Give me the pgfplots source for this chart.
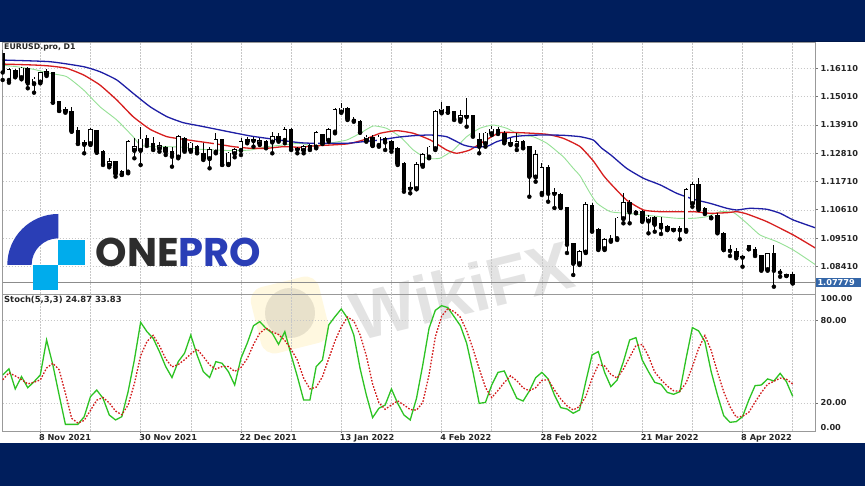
\documentclass[border=0pt]{standalone}
\usepackage{fontspec}
\setmainfont{DejaVu Sans}
\newfontfamily\poppins{Poppins}
\newfontfamily\wikifont{Liberation Sans}
\usepackage{pgfplots}
\usepackage{pgfplotstable}
\pgfplotsset{compat=1.18}
\definecolor{navy}{RGB}{0,30,92}
\definecolor{maBlue}{RGB}{30,30,165}
\definecolor{maRed}{RGB}{215,30,30}
\definecolor{maGreen}{RGB}{150,225,150}
\definecolor{stK}{RGB}{45,195,35}
\definecolor{stD}{RGB}{210,25,25}
\definecolor{pricebox}{RGB}{52,102,168}
\definecolor{logoBlue}{RGB}{42,62,182}
\definecolor{logoCyan}{RGB}{0,172,236}
\definecolor{logoGray}{RGB}{45,45,45}

\pgfplotstableread{
i o h l c
-6 1.16693 1.16821 1.15655 1.15978
-5 1.15655 1.16110 1.15550 1.16044
-4 1.16017 1.16071 1.15760 1.15811
-3 1.15760 1.16172 1.15682 1.16110
-2 1.16110 1.16149 1.15333 1.15550
-1 1.15527 1.15760 1.15162 1.15682
0 1.15589 1.15978 1.15527 1.15916
1 1.15888 1.16071 1.15811 1.15978
2 1.15916 1.15978 1.14773 1.14812
3 1.14812 1.14851 1.14450 1.14489
4 1.14516 1.14617 1.14384 1.14450
5 1.14423 1.14617 1.13646 1.13685
6 1.13685 1.13840 1.13168 1.13218
7 1.13218 1.13323 1.12806 1.13168
8 1.13195 1.13778 1.13129 1.13712
9 1.13685 1.13712 1.12829 1.12868
10 1.12868 1.12934 1.12351 1.12417
11 1.12351 1.12612 1.12262 1.12480
12 1.12480 1.12518 1.11897 1.12029
13 1.12001 1.12157 1.11963 1.12091
14 1.12091 1.13323 1.12029 1.13257
15 1.12934 1.13389 1.12612 1.13063
16 1.12934 1.13840 1.12351 1.13350
17 1.13362 1.13517 1.13090 1.13195
18 1.13195 1.13451 1.12934 1.13000
19 1.13000 1.13257 1.12868 1.13090
20 1.13039 1.13090 1.12740 1.12868
21 1.12868 1.13063 1.12285 1.12701
22 1.12674 1.13517 1.12612 1.13451
23 1.13389 1.13451 1.12868 1.12934
24 1.12934 1.13257 1.12868 1.13195
25 1.13063 1.13129 1.12806 1.12868
26 1.12806 1.13195 1.12546 1.12612
27 1.12612 1.13063 1.12223 1.12934
28 1.12868 1.13583 1.12806 1.13323
29 1.13323 1.13350 1.12351 1.12390
30 1.12390 1.12868 1.12351 1.12806
31 1.12806 1.13000 1.12651 1.12934
32 1.12934 1.13389 1.12740 1.13257
33 1.13257 1.13451 1.13195 1.13323
34 1.13323 1.13428 1.13063 1.13310
35 1.13195 1.13389 1.13129 1.13284
36 1.13257 1.13323 1.13000 1.13090
37 1.13257 1.13646 1.12806 1.13451
38 1.13451 1.13607 1.13257 1.13323
39 1.13323 1.13840 1.13195 1.13712
40 1.13739 1.13778 1.12934 1.13000
41 1.12985 1.13063 1.12806 1.12973
42 1.12934 1.13129 1.12806 1.13063
43 1.13090 1.13168 1.12934 1.13000
44 1.13063 1.13685 1.13000 1.13607
45 1.13517 1.13556 1.13168 1.13218
46 1.13323 1.13778 1.13257 1.13712
47 1.13646 1.14555 1.13583 1.14489
48 1.14423 1.14773 1.14384 1.14555
49 1.14555 1.14617 1.14100 1.14167
50 1.14113 1.14205 1.14034 1.14100
51 1.14034 1.14100 1.13607 1.13646
52 1.13323 1.13517 1.13257 1.13428
53 1.13428 1.13517 1.13090 1.13129
54 1.13129 1.13517 1.13063 1.13428
55 1.13389 1.13451 1.12934 1.13257
56 1.13257 1.13323 1.12868 1.13000
57 1.13000 1.13063 1.12351 1.12417
58 1.12417 1.12468 1.11313 1.11446
59 1.11470 1.11702 1.11251 1.11457
60 1.11446 1.12480 1.11407 1.12351
61 1.12351 1.12806 1.12285 1.12740
62 1.12674 1.13090 1.12612 1.13039
63 1.13000 1.14489 1.12934 1.14423
64 1.14423 1.14812 1.14361 1.14516
65 1.14617 1.14645 1.14384 1.14423
66 1.14423 1.14462 1.14100 1.14167
67 1.14128 1.14489 1.14034 1.14256
68 1.14256 1.14944 1.13840 1.14243
69 1.14256 1.14295 1.13451 1.13517
70 1.13350 1.13583 1.12806 1.13090
71 1.13195 1.13646 1.13063 1.13583
72 1.13583 1.13867 1.13517 1.13739
73 1.13739 1.13817 1.13556 1.13607
74 1.13583 1.13685 1.13195 1.13257
75 1.13200 1.13389 1.13129 1.13190
76 1.13129 1.13583 1.12934 1.13257
77 1.13257 1.13323 1.13000 1.13063
78 1.13063 1.13090 1.11119 1.11924
79 1.11897 1.12934 1.11702 1.12740
80 1.11263 1.12429 1.11185 1.12235
81 1.12235 1.12351 1.10925 1.11263
82 1.11270 1.11457 1.10680 1.11257
83 1.11185 1.11263 1.10680 1.10719
84 1.10680 1.10730 1.08931 1.09281
85 1.09281 1.09319 1.08076 1.08542
86 1.08530 1.09047 1.08464 1.08981
87 1.08981 1.10925 1.08931 1.10796
88 1.10758 1.10863 1.09759 1.09825
89 1.09825 1.09891 1.09047 1.09113
90 1.09113 1.09502 1.09047 1.09436
91 1.09436 1.09630 1.09370 1.09502
92 1.09502 1.10342 1.09436 1.10280
93 1.10280 1.11251 1.10085 1.10886
94 1.10886 1.10991 1.10085 1.10536
95 1.10542 1.10602 1.10474 1.10530
96 1.10536 1.10602 1.10147 1.10186
97 1.10186 1.10408 1.09696 1.10318
98 1.10318 1.10369 1.09759 1.10058
99 1.10058 1.10342 1.09669 1.09953
100 1.09953 1.10019 1.09825 1.09852
101 1.09858 1.09875 1.09825 1.09846
102 1.09858 1.09980 1.09463 1.09846
103 1.09825 1.11446 1.09759 1.11380
104 1.10863 1.11702 1.10730 1.11574
105 1.11574 1.11834 1.10602 1.10668
106 1.10668 1.10730 1.10447 1.10497
107 1.10348 1.10408 1.10280 1.10336
108 1.10369 1.10474 1.09696 1.09759
109 1.09696 1.09759 1.09047 1.09075
110 1.09053 1.09242 1.08814 1.09041
111 1.08981 1.09113 1.08725 1.08814
112 1.08793 1.08853 1.08398 1.08781
113 1.09203 1.09242 1.09075 1.09113
114 1.09075 1.09152 1.08814 1.08892
115 1.08814 1.08853 1.08243 1.08297
116 1.08297 1.08919 1.08243 1.08892
117 1.08892 1.09242 1.07621 1.08270
118 1.08210 1.08297 1.08010 1.08198
119 1.08082 1.08114 1.08037 1.08070
120 1.08076 1.08204 1.07753 1.07779
}\candles

\pgfplotstableread{
i k d
-6 40.4 36.9
-5 44.8 42.0
-4 30.2 39.7
-3 39.2 37.1
-2 31.1 33.9
-1 35.5 35.1
0 40.4 36.8
1 65.9 45.5
2 47.7 48.9
3 25.8 44.2
4 4.4 27.1
5 4.4 8.8
6 4.4 5.3
7 10.0 7.3
8 24.6 14.6
9 29.4 22.0
10 23.4 24.0
11 11.2 20.0
12 7.6 14.1
13 10.0 11.4
14 28.2 18.5
15 51.3 34.0
16 78.8 54.4
17 72.0 64.7
18 67.1 69.3
19 57.4 61.8
20 46.5 52.1
21 38.5 46.3
22 50.1 48.0
23 56.2 51.5
24 69.5 55.7
25 55.0 59.3
26 42.8 53.8
27 38.5 47.7
28 50.1 44.7
29 48.9 46.5
30 42.8 46.5
31 33.1 43.0
32 52.5 45.8
33 63.5 52.3
34 76.3 62.6
35 79.3 70.9
36 74.4 74.5
37 70.8 71.8
38 62.7 69.9
39 72.0 65.5
40 55.0 59.1
41 39.2 51.2
42 22.1 38.1
43 22.1 30.2
44 46.5 31.5
45 51.3 39.1
46 76.8 52.3
47 82.9 65.2
48 88.5 75.4
49 81.7 82.6
50 69.5 79.8
51 45.2 69.7
52 25.8 54.4
53 9.3 33.8
54 16.1 20.2
55 18.5 15.4
56 30.2 18.5
57 19.7 21.5
58 11.2 18.5
59 7.6 15.2
60 23.4 14.8
61 47.7 20.3
62 74.4 40.5
63 87.5 68.0
64 90.9 83.2
65 89.5 88.8
66 82.9 86.6
67 76.3 82.5
68 63.5 72.7
69 42.8 59.6
70 19.7 45.0
71 20.4 31.2
72 33.1 23.9
73 42.3 29.1
74 43.3 34.9
75 33.1 39.8
76 23.4 36.2
77 21.4 31.0
78 28.7 28.9
79 38.4 31.1
80 42.3 36.5
81 37.5 36.9
82 25.8 29.5
83 16.6 22.9
84 15.6 17.9
85 12.5 14.9
86 14.9 17.4
87 35.5 24.7
88 55.0 37.8
89 57.4 47.8
90 42.3 47.0
91 31.9 40.8
92 36.7 38.1
93 50.1 44.7
94 65.9 53.3
95 67.6 61.8
96 51.3 62.6
97 42.8 54.0
98 35.0 42.5
99 33.6 37.0
100 27.7 32.3
101 26.3 28.9
102 28.2 28.6
103 52.5 34.6
104 74.9 46.4
105 72.5 59.8
106 64.7 69.1
107 42.8 58.3
108 25.8 42.5
109 10.7 28.2
110 5.9 17.3
111 6.4 9.6
112 10.0 10.3
113 22.1 13.2
114 32.6 20.6
115 33.1 27.6
116 37.5 33.6
117 36.0 35.8
118 41.6 38.1
119 35.5 37.3
120 24.87 33.83
}\stoch

\begin{document}
\begin{tikzpicture}
\begin{scope}[x=1pt,y=1pt]
\path[use as bounding box] (0,0) rectangle (865,486);
\fill[white] (0,0) rectangle (865,486);
% watermark
\node[rotate=14, fill=orange!40!yellow, fill opacity=0.12, rounded corners=14pt, minimum width=70pt, minimum height=68pt] at (290,171) {};
\fill[black, opacity=0.09] (290,173) circle (25);
\node[rotate=14, text=black, text opacity=0.11, font=\wikifont\bfseries\fontsize{68}{68}\selectfont] at (462,196) {WikiFX};
\end{scope}

% main price panel
\begin{axis}[
  at={(2.7pt,192pt)}, anchor=south west,
  width=812.3pt, height=252pt, scale only axis,
  xmin=-6, xmax=123.56, ymin=1.07337, ymax=1.17132,
  axis line style={draw=black!40, line width=0.7pt},
  xtick={0,8,...,120}, xticklabels={}, major x tick style={draw=none},
  ytick={1.08410,1.09510,1.10610,1.11710,1.12810,1.13910,1.15010,1.16110},
  yticklabels={1.08410,1.09510,1.10610,1.11710,1.12810,1.13910,1.15010,1.16110},
  ytick pos=right, yticklabel pos=right,
  tick align=outside, major tick length=2.5pt,
  major y tick style={draw=black!55, line width=0.6pt},
  tick label style={font=\bfseries\fontsize{8.2}{9}\selectfont, text=black!85},
  yticklabel style={anchor=west, inner sep=0pt, xshift=3pt},
  grid=major, major grid style={draw=black!22, dash pattern=on 1.5pt off 1.5pt, line width=0.5pt},
]
% bid line
\addplot[black!45, line width=0.6pt] coordinates {(-6,1.07779) (123.56,1.07779)};
% moving averages
\addplot[maGreen, line width=0.9pt, smooth, tension=0.3] coordinates {(-6.4,1.16238) (-3.8,1.16172) (-1.1,1.16071) (1.5,1.15916) (4.2,1.15784) (6.9,1.15267) (9.5,1.14617) (12.2,1.14100) (14.8,1.13451) (15.9,1.13129) (17.5,1.13063) (20.2,1.13063) (22.8,1.13039) (25.5,1.12962) (28.1,1.12934) (30.8,1.12907) (33.5,1.12934) (36.1,1.13063) (38.8,1.13129) (41.4,1.13195) (43.5,1.13090) (46,1.13195) (48.9,1.13323) (51,1.13583) (53.1,1.13867) (55.2,1.13778) (57.4,1.13451) (59.5,1.12934) (61.6,1.12612) (63.7,1.12612) (65.9,1.12934) (68,1.13451) (70.1,1.13778) (72.2,1.13906) (74.4,1.13778) (76.5,1.13517) (78.6,1.13451) (80.8,1.13195) (83.4,1.12674) (85,1.12223) (86.1,1.11924) (87.7,1.11251) (88.8,1.10863) (90.9,1.10536) (93.5,1.10474) (96.2,1.10408) (98.9,1.10342) (101.5,1.10280) (104.2,1.10280) (106.3,1.10342) (108.4,1.10536) (110.6,1.10497) (112.7,1.10085) (114.8,1.09630) (117.5,1.09370) (120.1,1.09047) (123.6,1.08480)};
\addplot[maRed, line width=1.3pt, smooth, tension=0.3] coordinates {(-6.4,1.16277) (-1.1,1.16238) (1.5,1.16199) (4.2,1.16110) (6.9,1.15850) (9.5,1.15461) (12.2,1.14878) (14.8,1.14229) (17.5,1.13739) (20.2,1.13451) (22.8,1.13350) (25.5,1.13257) (28.1,1.13168) (30.8,1.13063) (33.5,1.13000) (36.1,1.13000) (38.8,1.13063) (41.4,1.13039) (43.5,1.13090) (48.9,1.13168) (51.5,1.13323) (54.2,1.13583) (56.9,1.13685) (59.5,1.13583) (62.2,1.13323) (64.8,1.12934) (66.4,1.12806) (68.5,1.12934) (71.1,1.13323) (73.3,1.13607) (76.5,1.13607) (80.8,1.13545) (83.4,1.13389) (86.1,1.13063) (88.2,1.12507) (89.8,1.11950) (90.9,1.11640) (93.5,1.10991) (96.2,1.10602) (98.9,1.10536) (104.2,1.10536) (106.8,1.10474) (109.5,1.10497) (111.1,1.10536) (112.7,1.10447) (115.9,1.10147) (120.1,1.09630) (123.6,1.09125)};
\addplot[maBlue, line width=1.3pt, smooth, tension=0.3] coordinates {(-6.4,1.16433) (1.5,1.16367) (6.9,1.16172) (9.5,1.15978) (12.2,1.15655) (14.8,1.15138) (17.5,1.14617) (20.2,1.14229) (22.8,1.13996) (25.5,1.13867) (28.1,1.13739) (30.8,1.13607) (33.5,1.13479) (36.1,1.13389) (38.8,1.13296) (41.4,1.13218) (43.5,1.13195) (48.9,1.13195) (51.5,1.13257) (54.2,1.13323) (56.9,1.13428) (59.5,1.13490) (62.2,1.13517) (64.8,1.13451) (67.5,1.13129) (69.3,1.13039) (71.4,1.13090) (72.8,1.13257) (75.5,1.13451) (78.1,1.13506) (80.8,1.13517) (83.4,1.13506) (86.1,1.13451) (88.2,1.13323) (89.5,1.13012) (91,1.12740) (93.5,1.12223) (96.2,1.11834) (98.9,1.11574) (101.5,1.11251) (104.2,1.11018) (106.8,1.10863) (109.5,1.10668) (111.1,1.10602) (113.2,1.10668) (115.9,1.10629) (118,1.10474) (120.1,1.10213) (123.6,1.09910)};
% wicks
\addplot[only marks, mark=none, error bars/.cd, y dir=plus, y explicit, error mark=none,
  error bar style={draw=black, line width=0.9pt}]
  table[x=i, y=l, y error expr=\thisrow{h}-\thisrow{l}] {\candles};
% bearish bodies
\addplot[only marks, mark=none, restrict expr to domain={\thisrow{c}-\thisrow{o}}{-1:0},
  error bars/.cd, y dir=plus, y explicit, error mark=none,
  error bar style={draw=black, line width=4.6pt}]
  table[x=i, y expr=\thisrow{c}-0.0003, y error expr=\thisrow{o}-\thisrow{c}+0.0006] {\candles};
% bullish bodies: outline then white fill
\addplot[only marks, mark=none, restrict expr to domain={\thisrow{c}-\thisrow{o}}{0:1},
  error bars/.cd, y dir=plus, y explicit, error mark=none,
  error bar style={draw=black, line width=4.6pt}]
  table[x=i, y expr=\thisrow{o}-0.0003, y error expr=\thisrow{c}-\thisrow{o}+0.0006] {\candles};
\addplot[only marks, mark=none, restrict expr to domain={\thisrow{c}-\thisrow{o}}{0:1},
  error bars/.cd, y dir=plus, y explicit, error mark=none,
  error bar style={draw=white, line width=3.0pt}]
  table[x=i, y=o, y error expr=\thisrow{c}-\thisrow{o}] {\candles};
\end{axis}

% stochastic panel
\begin{axis}[
  at={(2.7pt,55pt)}, anchor=south west,
  width=812.3pt, height=137pt, scale only axis,
  xmin=-6, xmax=123.56, ymin=-0.44, ymax=99.42,
  axis line style={draw=black!40, line width=0.7pt},
  xtick={0,16,...,112},
  xticklabels={8 Nov 2021,30 Nov 2021,22 Dec 2021,13 Jan 2022,4 Feb 2022,28 Feb 2022,21 Mar 2022,8 Apr 2022},
  extra x ticks={8,24,...,120}, extra x tick labels={},
  extra x tick style={major tick length=0pt},
  xtick pos=bottom, ytick pos=right, yticklabel pos=right,
  ytick={20,80}, yticklabels={20.00,80.00},
  tick align=outside, major tick length=2.5pt,
  tick style={draw=black!55, line width=0.6pt},
  tick label style={font=\bfseries\fontsize{8.2}{9}\selectfont, text=black!85},
  xticklabel style={anchor=north west, inner sep=0pt, xshift=-1.5pt, yshift=-1pt},
  yticklabel style={anchor=west, inner sep=0pt, xshift=3pt},
  grid=major, major grid style={draw=black!22, dash pattern=on 1.5pt off 1.5pt, line width=0.5pt},
]
\addplot[stK, line width=1.3pt] table[x=i, y=k] {\stoch};
\addplot[stD, line width=1.3pt, dash pattern=on 1.6pt off 1.6pt] table[x=i, y=d] {\stoch};
\end{axis}

\begin{scope}[x=1pt,y=1pt]
% right scale extras
\node[anchor=west, inner sep=0pt, font=\bfseries\fontsize{8.2}{9}\selectfont, text=black!85] at (820.5,187.7) {100.00};
\node[anchor=west, inner sep=0pt, font=\bfseries\fontsize{8.2}{9}\selectfont, text=black!85] at (820.5,58.7) {0.00};
\node[anchor=west, fill=pricebox, text=white, inner xsep=2pt, inner ysep=0pt, minimum height=9.4pt, text width=41pt, align=left, font=\bfseries\fontsize{8.2}{9}\selectfont] at (815.3,203.5) {1.07779};

% titles
\node[anchor=north west, inner sep=0pt, font=\bfseries\fontsize{7.8}{9}\selectfont, text=black!85] at (4,442.5) {EURUSD.pro, D1};
\node[anchor=north west, inner sep=0pt, font=\bfseries\fontsize{8.4}{9}\selectfont, text=black!85] at (4,190) {Stoch(5,3,3) 24.87 33.83};

% ONEPRO logo
\fill[logoBlue] (58.3,272) arc[start angle=90, end angle=180, radius=51] -- (31.6,221) arc[start angle=180, end angle=90, radius=26.7] -- cycle;
\fill[logoCyan] (58.3,221) rectangle (85,246);
\fill[logoCyan] (33.3,196) rectangle (58.3,221);
\node[anchor=base west, inner sep=0pt, font=\poppins\bfseries\fontsize{40}{40}\selectfont] at (95.5,219.3) {\textcolor{logoGray}{ONE}\textcolor{logoBlue}{PRO}};

% navy bands
\fill[navy] (0,444.2) rectangle (865,486);
\fill[navy!80!black] (0,444.2) rectangle (865,445.2);
\fill[navy] (0,0) rectangle (865,43);
\end{scope}
\end{tikzpicture}
\end{document}
